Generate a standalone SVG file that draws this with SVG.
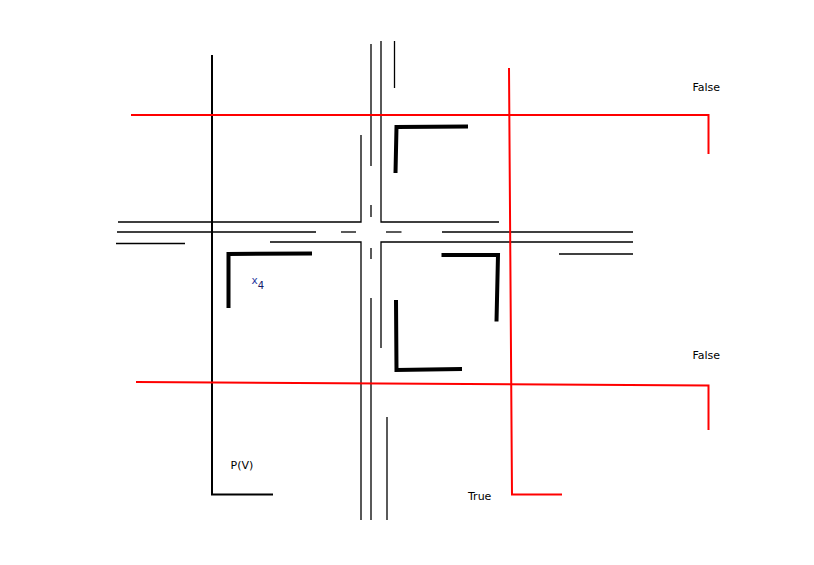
<svg xmlns="http://www.w3.org/2000/svg" width="814" height="565" viewBox="0 0 814 565">
<style>
.thin{fill:none;stroke:#000;stroke-width:1.3}
.thick{fill:none;stroke:#000;stroke-width:4}
.red{fill:none;stroke:#ff0000;stroke-width:2}
.lbl{font-family:"DejaVu Sans",sans-serif;font-size:11px;fill:#000}
</style>
<rect width="814" height="565" fill="#fff"/>
<g id="connectors">
<g id="road">
<polyline class="thin" points="118,222 361,222 361,135"/>
<polyline class="thin" points="381,41 381,222 499,222"/>
<line class="thin" x1="371" y1="44" x2="371" y2="166"/>
<line class="thin" x1="394.5" y1="41" x2="394.5" y2="88"/>
<line class="thin" x1="117" y1="232" x2="316" y2="232"/>
<line class="thin" x1="341" y1="232" x2="356" y2="232"/>
<line class="thin" x1="386" y1="232" x2="401.5" y2="232"/>
<line class="thin" x1="442" y1="232" x2="633" y2="232"/>
<line class="thin" x1="371" y1="205" x2="371" y2="217"/>
<line class="thin" x1="371" y1="248" x2="371" y2="259"/>
<polyline class="thin" points="270,242 361,242 361,520"/>
<polyline class="thin" points="633,242 381,242 381,348"/>
<line class="thin" x1="116" y1="243.5" x2="185" y2="243.5"/>
<line class="thin" x1="559" y1="254" x2="633" y2="254"/>
<line class="thin" x1="371" y1="298" x2="371" y2="520"/>
<line class="thin" x1="387" y1="417" x2="387" y2="520"/>
</g>
<g id="axes">
<polyline class="thin" points="212,55 212,494.5 273,494.5" style="stroke-width:2"/>
</g>
<g id="red-lines">
<polyline class="red" points="131,115 708.5,115 708.5,154"/>
<polyline class="red" points="136,382 708.5,385.5 708.5,430"/>
<polyline class="red" points="509,68 512,494.5 562,494.5"/>
</g>
</g>
<g id="bracket-left"><polyline class="thick" points="228.5,308 228.5,254 312,253.5"/></g>
<g id="bracket-top"><polyline class="thick" points="395.5,173 396.5,127 468,126.5"/></g>
<g id="bracket-right"><polyline class="thick" points="441.5,255 498,255 496.5,321.5"/></g>
<g id="bracket-bottom"><polyline class="thick" points="396,300 396.5,370 462,369"/></g>
<g id="label-x4"><text x="251.5" y="283.5" class="lbl" style="font-size:10.5px;fill:#2a3aa0">x<tspan dy="5" style="font-size:10px;fill:#141a6a">4</tspan></text></g>
<g id="label-pv"><text x="230.5" y="469" class="lbl">P(V)</text></g>
<g id="label-true"><text x="468" y="499.5" class="lbl">True</text></g>
<g id="label-false1"><text x="692.5" y="90.5" class="lbl">False</text></g>
<g id="label-false2"><text x="692.5" y="359" class="lbl">False</text></g>
</svg>
